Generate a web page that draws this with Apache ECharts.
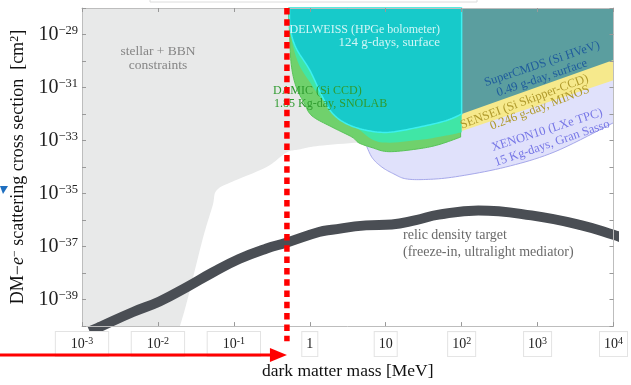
<!DOCTYPE html>
<html><head><meta charset="utf-8">
<script src="https://cdn.jsdelivr.net/npm/echarts@6/dist/echarts.min.js"></script>
<style>html,body{margin:0;padding:0;background:#fff;}#c{width:631px;height:385px;}</style>
</head><body><div id="c"></div>
<script>
// ---------- data (mass in MeV, cross section in cm^2) ----------
const xTickExps = [-3, -2, -1, 0, 1, 2, 3, 4];
const yLabelExps = [-39, -37, -35, -33, -31, -29];

const stellarCurve = [[0.0195,1e-40],[0.0245,1e-39],[0.039,2e-37],[0.0525,3.5e-36],[0.059,1.3e-35],[0.095,2.8e-35],[0.27,1e-34],[0.49,3.5e-34],[0.72,4.6e-34],[1.33,6.3e-34],[5.5,8.9e-34]];
const stellarCorners = [[8,1e-28],[1e-3,1e-28],[1e-3,1e-40]];

const xenonCurve = [[5.4,8e-34],[6.6,2.3e-34],[8.9,1e-34],[12.8,5.5e-35],[18.4,3.6e-35],[33.7,3.4e-35],[83,4.3e-35],[380,1e-34],[1700,3.8e-34],[1e4,4.7e-33]];
const xenonCorners = [[1e4,1e-30],[50,1e-30],[5.4,1e-32]];

const senseiCurve = [[100,2.3e-33],[1e4,1.9e-31]];
const senseiCorners = [[1e4,1e-28],[100,1e-28]];

const cdmsCurve = [[100,1e-32],[1e4,1.1e-30]];
const cdmsCorners = [[1e4,1e-28],[100,1e-28]];

const damicCurve = [[0.52,1e-28],[0.54,1.3e-29],[0.57,7.4e-31],[0.66,1.07e-31],[0.845,2.6e-32],[1.07,8.5e-33],[1.97,3.2e-33],[3.6,1.35e-33],[4.45,8.1e-34],[6.6,5.4e-34],[11,3.8e-34],[27.3,4.9e-34],[50,7e-34],[97,1.35e-33]];
const damicCorners = [[97,1e-28]];

const edelHaloCurve = [[0.54,1e-28],[0.553,2.5e-29],[0.59,4.7e-30],[0.72,7.4e-31],[1.0,1.6e-31],[1.46,3.5e-32],[2.43,8.5e-33],[4.07,3.2e-33],[8.1,8.9e-34],[27.3,1.05e-33],[67,1.6e-33],[100,2.05e-33]];
const edelHaloCorners = [[100,1e-28]];

const edelCurve = [[0.54,1e-28],[0.553,1.65e-29],[0.66,3.1e-30],[1.0,4.5e-31],[1.46,4.6e-32],[1.97,1.1e-32],[3.0,4.4e-33],[5.5,2.45e-33],[11,2.05e-33],[27.3,3.2e-33],[62,5.6e-33],[100,1e-32]];
const edelCorners = [[100,1e-28]];

const relicMass  = [1.26e-3,1.74e-3,4.7e-3,0.0105,0.024,0.0525,0.117,0.27,0.49,1.32,1.95,5.5,12,25,50,166,830,3700,1e4,1.26e4];
const relicSigma = [6.3e-41,9.5e-41,3.4e-40,8.5e-40,2.95e-39,1.05e-38,3.4e-38,8.5e-38,1.4e-37,3.55e-37,4.3e-37,6.3e-37,6.8e-37,1.0e-36,1.6e-36,2.3e-36,1.5e-36,6.5e-37,2.8e-37,2.2e-37];

const markerMass = 0.5;
const markerSigma = [1e-28, 2.7e-41];

// ---------- helpers ----------
// axes are linear in log10 space (ECharts 6 log axis cannot handle 1e-40 extents)
const lg = p => [Math.log10(p[0]), Math.log10(p[1])];

function catmull(pts, n) {
  if (pts.length < 3) return pts.slice();
  const out = [];
  for (let i = 0; i < pts.length - 1; i++) {
    const p0 = pts[i-1] || pts[i], p1 = pts[i], p2 = pts[i+1], p3 = pts[i+2] || pts[i+1];
    for (let t = 0; t < n; t++) {
      const s = t / n, s2 = s*s, s3 = s2*s;
      const f = k => 0.5*((2*p1[k]) + (-p0[k]+p2[k])*s + (2*p0[k]-5*p1[k]+4*p2[k]-p3[k])*s2 + (-p0[k]+3*p1[k]-3*p2[k]+p3[k])*s3);
      out.push([f(0), f(1)]);
    }
  }
  out.push(pts[pts.length-1]);
  return out;
}
function region(name, curve, corners, fill, stroke, lw, z) {
  return {
    type: 'custom', name: name, coordinateSystem: 'cartesian2d', silent: true, z: z,
    data: [[0, -34]],
    renderItem: function (params, api) {
      const c = catmull(curve.map(p => api.coord(lg(p))), 10);
      const k = corners.map(p => api.coord(lg(p)));
      return { type: 'polygon', shape: { points: c.concat(k) },
        style: { fill: fill, stroke: stroke || null, lineWidth: lw || 0, lineJoin: 'round' } };
    }
  };
}

const SERIF = 'Liberation Serif';
const chart = echarts.init(document.getElementById('c'), null, { renderer: 'canvas' });

function xFmt(v) {
  const e = Math.round(v);
  if (xTickExps.indexOf(e) < 0) return '';
  if (e === 0) return '{b|1}';
  if (e === 1) return '{b|10}';
  if (e < 0) return '{p|}{b|10}{s|' + e + '}{p|}';
  return '{b|10}{s|' + e + '}';
}
function yFmt(v) {
  const e = Math.round(v);
  if (yLabelExps.indexOf(e) < 0) return '';
  return '{b|10}{s|\u2212' + (-e) + '}';
}

const axisLine = { show: true, onZero: false, lineStyle: { color: '#bdbdbd', width: 1 } };
const axisTick = { show: true, inside: true, length: 4, lineStyle: { color: '#999' } };

const option = {
  animation: false,
  backgroundColor: '#fff',
  grid: { left: 82, right: 16, top: 8, bottom: 48 },
  xAxis: [{
    type: 'value', min: -3, max: 4, interval: 1, z: 15,
    axisLine: axisLine, axisTick: axisTick, splitLine: { show: false },
    name: 'dark matter mass [MeV]', nameLocation: 'middle', nameGap: 30,
    nameTextStyle: { fontFamily: SERIF, fontSize: 17.5, color: '#111' },
    axisLabel: {
      margin: 6, formatter: xFmt,
      backgroundColor: '#fff', borderColor: '#e3e3e3', borderWidth: 1, padding: [4, 4, 4, 4],
      rich: {
        b: { fontFamily: SERIF, fontSize: 14, color: '#222', lineHeight: 16 },
        s: { fontFamily: SERIF, fontSize: 10, color: '#222', verticalAlign: 'top', lineHeight: 10 },
        p: { width: 11, fontSize: 10 }
      }
    }
  }, {
    type: 'value', min: -3, max: 4, interval: 1, position: 'top', z: 15,
    axisLine: axisLine, axisTick: axisTick, splitLine: { show: false }, axisLabel: { show: false }
  }],
  yAxis: [{
    type: 'value', min: -40, max: -28, interval: 1, z: 15,
    axisLine: axisLine, axisTick: axisTick, splitLine: { show: false },
    name: '{r|DM\u2212}{i|e}{s|\u2212}{r| scattering cross section  [cm}{s|2}{r|]}',
    nameLocation: 'middle', nameGap: 51,
    nameTextStyle: {
      fontFamily: SERIF, fontSize: 18, color: '#111',
      rich: {
        r: { fontFamily: SERIF, fontSize: 18, color: '#111', lineHeight: 19 },
        i: { fontFamily: SERIF, fontSize: 18, color: '#111', fontStyle: 'italic', lineHeight: 19 },
        s: { fontFamily: SERIF, fontSize: 12, color: '#111', verticalAlign: 'top', lineHeight: 12 }
      }
    },
    axisLabel: {
      margin: 4, formatter: yFmt,
      rich: {
        b: { fontFamily: SERIF, fontSize: 20, color: '#222', lineHeight: 20 },
        s: { fontFamily: SERIF, fontSize: 12.5, color: '#222', verticalAlign: 'top', lineHeight: 12 }
      }
    }
  }, {
    type: 'value', min: -40, max: -28, interval: 1, position: 'right', z: 15,
    axisLine: axisLine, axisTick: axisTick, splitLine: { show: false }, axisLabel: { show: false }
  }],
  series: [
    region('stellar + BBN', stellarCurve, stellarCorners, '#e8e9e9', null, 0, 1),
    region('XENON10', xenonCurve, xenonCorners, '#e0e1fb', '#a6a8ea', 1, 2),
    region('SENSEI', senseiCurve, senseiCorners, '#f6e98c', null, 0, 3),
    region('SuperCDMS', cdmsCurve, cdmsCorners, '#5b9e9f', null, 0, 4),
    region('DAMIC', damicCurve, damicCorners, '#70d16c', '#58c458', 1, 5),
    region('EDELWEISS halo', edelHaloCurve, edelHaloCorners, '#40e6a6', null, 0, 6),
    region('EDELWEISS', edelCurve, edelCorners, '#17caca', '#3cf0f0', 1.5, 7),
    {
      type: 'line', name: 'relic', z: 9, smooth: 0.45, symbol: 'none', silent: true,
      data: relicMass.map((m, i) => lg([m, relicSigma[i]])),
      lineStyle: { color: '#4a4e54', width: 10 }
    },
    {
      type: 'line', name: 'marker', z: 20, symbol: 'none', clip: false, silent: true,
      data: markerSigma.map(s => lg([markerMass, s])),
      lineStyle: { color: '#ff0000', width: 5.5, type: [6.5, 4.8], cap: 'butt' }
    }
  ]
};
chart.setOption(option);

// ---------- annotations ----------
const tipX = chart.convertToPixel({ xAxisIndex: 0 }, Math.log10(markerMass));
const deg = Math.PI / 180;
function txt(x, y, text, color, align, rot, size, z) {
  return { type: 'text', x: x, y: y, rotation: (rot || 0) * deg, z: z || 10, silent: true,
    style: { text: text, fill: color, align: align, verticalAlign: 'middle',
      fontFamily: SERIF, fontSize: size || 13.5 } };
}
chart.setOption({
  graphic: [
    { type: 'rect', shape: { x: 150, y: -10, width: 327, height: 12 }, style: { fill: '#fff', stroke: '#dcdcdc', lineWidth: 1 }, z: 1 },
    txt(158, 51, 'stellar + BBN', '#858585', 'center'),
    txt(158, 65, 'constraints', '#858585', 'center'),
    txt(440, 30, 'EDELWEISS (HPGe bolometer)', '#d0f6f6', 'right', 0, 12),
    txt(440, 43, '124 g-days, surface', '#d0f6f6', 'right', 0, 13),
    txt(273, 91, 'DAMIC (Si CCD)', '#2f9b2f', 'left', 0, 12),
    txt(274, 104, '1.85 Kg-day, SNOLAB', '#2f9b2f', 'left', 0, 12),
    txt(542, 64, 'SuperCMDS (Si HVeV)', '#1f5c9c', 'center', 18.5, 12.5),
    txt(542, 78, '0.49 g-day, surface', '#1f5c9c', 'center', 18.5, 12.5),
    txt(588, 78, 'SENSEI (Si Skipper-CCD)', '#b09a2c', 'right', 20.5, 12.5),
    txt(589, 89, '0.246 g-day, MINOS', '#b09a2c', 'right', 21, 12.5),
    txt(492, 148, 'XENON10 (LXe TPC)', '#7676e6', 'left', 18, 12.5),
    txt(495, 163, '15 Kg-days, Gran Sasso', '#7676e6', 'left', 19, 12.5),
    txt(403, 235, 'relic density target', '#6a6a6a', 'left', 0, 14, 8),
    txt(403, 252, '(freeze-in, ultralight mediator)', '#6a6a6a', 'left', 0, 14, 8),
    { type: 'line', z: 30, silent: true, shape: { x1: 0, y1: 355, x2: tipX - 14, y2: 355 }, style: { stroke: '#ff0000', lineWidth: 3 } },
    { type: 'polygon', z: 30, silent: true, shape: { points: [[tipX - 17, 348], [tipX, 355], [tipX - 17, 362]] }, style: { fill: '#ff0000' } },
    { type: 'polygon', z: 30, silent: true, shape: { points: [[0, 186], [8, 186], [3, 194]] }, style: { fill: '#1f6fc0' } }
  ]
});
</script>
</body></html>
